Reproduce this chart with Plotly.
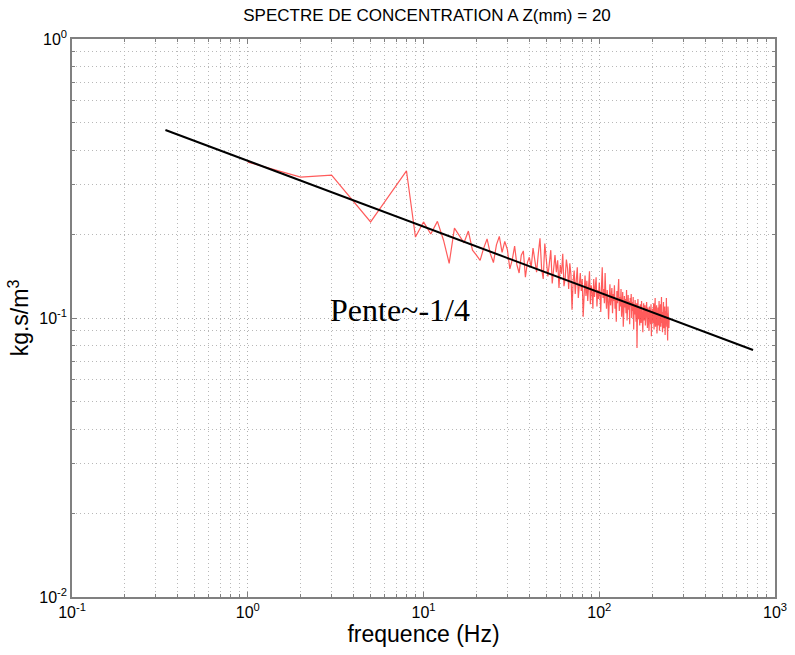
import plotly.graph_objects as go

# Spectrum data (frequency in Hz, value in kg.s/m^3)
freq = list(range(1, 251))
spectrum = [
    0.362, 0.320, 0.325, 0.262, 0.221, 0.260, 0.300, 0.337, 0.195, 0.221,
    0.200, 0.222, 0.190, 0.157, 0.210, 0.198, 0.186, 0.205, 0.175, 0.168,
    0.161, 0.178, 0.192, 0.170, 0.158, 0.183, 0.196, 0.172, 0.188, 0.176,
    0.150, 0.162, 0.181, 0.155, 0.145, 0.168, 0.174, 0.140, 0.158, 0.165,
    0.152, 0.178, 0.160, 0.146, 0.170, 0.193, 0.150, 0.138, 0.185, 0.162,
    0.141, 0.157, 0.175, 0.133, 0.150, 0.168, 0.146, 0.161, 0.128, 0.155,
    0.144, 0.170, 0.130, 0.139, 0.162, 0.151, 0.127, 0.157, 0.143, 0.107,
    0.135, 0.148, 0.122, 0.140, 0.152, 0.118, 0.133, 0.145, 0.125, 0.138,
    0.101, 0.130, 0.142, 0.120, 0.136, 0.115, 0.128, 0.147, 0.112, 0.131,
    0.124, 0.108, 0.138, 0.119, 0.129, 0.140, 0.110, 0.126, 0.117, 0.134,
    0.121, 0.105, 0.130, 0.152, 0.118, 0.127, 0.113, 0.145, 0.120, 0.108,
    0.126, 0.117, 0.099, 0.123, 0.132, 0.111, 0.119, 0.128, 0.104, 0.122,
    0.115, 0.131, 0.108, 0.118, 0.097, 0.125, 0.113, 0.121, 0.138, 0.106,
    0.119, 0.110, 0.127, 0.101, 0.116, 0.124, 0.093, 0.112, 0.120, 0.109,
    0.117, 0.104, 0.126, 0.098, 0.113, 0.121, 0.107, 0.115, 0.095, 0.118,
    0.110, 0.122, 0.100, 0.114, 0.106, 0.119, 0.091, 0.112, 0.103, 0.116,
    0.108, 0.097, 0.113, 0.078, 0.105, 0.117, 0.099, 0.110, 0.102, 0.094,
    0.112, 0.104, 0.096, 0.115, 0.100, 0.108, 0.089, 0.106, 0.113, 0.098,
    0.103, 0.111, 0.094, 0.107, 0.099, 0.114, 0.101, 0.092, 0.109, 0.097,
    0.105, 0.090, 0.110, 0.100, 0.107, 0.095, 0.112, 0.086, 0.104, 0.099,
    0.108, 0.096, 0.102, 0.113, 0.091, 0.106, 0.098, 0.118, 0.093, 0.104,
    0.100, 0.111, 0.088, 0.103, 0.097, 0.109, 0.094, 0.101, 0.115, 0.090,
    0.106, 0.098, 0.112, 0.093, 0.102, 0.119, 0.096, 0.105, 0.089, 0.108,
    0.099, 0.114, 0.092, 0.103, 0.097, 0.110, 0.087, 0.101, 0.106, 0.095,
    0.118, 0.093, 0.104, 0.088, 0.083, 0.110, 0.097, 0.102, 0.092, 0.100,
]

# Fitted slope line (Pente ~ -1/4)
fit_x = [0.34, 750]
fit_y = [0.472, 0.0768]

x_tickvals = [0.1, 1, 10, 100, 1000]
x_ticktext = ["10<sup>-1</sup>", "10<sup>0</sup>", "10<sup>1</sup>", "10<sup>2</sup>", "10<sup>3</sup>"]
y_tickvals = [0.01, 0.1, 1]
y_ticktext = ["10<sup>-2</sup>", "10<sup>-1</sup>", "10<sup>0</sup>"]
minor_mults = [2, 3, 4, 5, 6, 7, 8, 9]
x_minor = [m * d for d in [0.1, 1, 10, 100] for m in minor_mults]
y_minor = [m * d for d in [0.01, 0.1] for m in minor_mults]

fig = go.Figure()
fig.add_trace(go.Scatter(x=freq, y=spectrum, mode="lines",
                         line=dict(color="rgba(255,50,50,0.8)", width=1.2),
                         showlegend=False))
fig.add_trace(go.Scatter(x=fit_x, y=fit_y, mode="lines",
                         line=dict(color="black", width=2),
                         showlegend=False))

fig.add_annotation(x=0.4556, y=-0.971, xref="x", yref="y", text="Pente~-1/4",
                   showarrow=False, xanchor="left", yanchor="middle",
                   font=dict(family="Liberation Serif, Times New Roman, serif", size=32, color="black"))

font_sans = "Liberation Sans, Arial, sans-serif"

def axis_style(minor_vals):
    return dict(
        type="log",
        showline=True, linecolor="#808080", linewidth=1.5, mirror="ticks",
        ticks="inside", ticklen=5, tickcolor="#808080",
        showgrid=True, gridcolor="#b0b0b0", griddash="1px,3px", gridwidth=1,
        zeroline=False,
        tickfont=dict(family=font_sans, size=16, color="black"),
        minor=dict(tickmode="array", tickvals=minor_vals,
                   showgrid=True, gridcolor="#b8b8b8", griddash="1px,3px", gridwidth=1,
                   ticks="inside", ticklen=3, tickcolor="#808080"),
    )

fig.update_layout(
    width=795, height=655,
    margin=dict(l=72, r=8, t=39, b=58),
    paper_bgcolor="white", plot_bgcolor="white",
    title=dict(text="SPECTRE DE CONCENTRATION A Z(mm) = 20", x=0.505, xref="paper", xanchor="center",
               y=0.977, yref="container", yanchor="middle",
               font=dict(family=font_sans, size=17, color="black")),
    xaxis=dict(axis_style(x_minor), range=[-1, 3], tickvals=x_tickvals, ticktext=x_ticktext,
               ticklabeloverflow="allow",
               title=dict(text="frequence (Hz)", standoff=6,
                          font=dict(family=font_sans, size=23, color="black"))),
    yaxis=dict(axis_style(y_minor), range=[-2, 0], tickvals=y_tickvals, ticktext=y_ticktext,
               title=dict(text="kg.s/m<sup>3</sup>", standoff=4,
                          font=dict(family=font_sans, size=23, color="black"))),
)

fig.write_html("out.html", config={"displayModeBar": False},
               post_script="document.body.style.margin='0';document.body.style.overflow='hidden';")
